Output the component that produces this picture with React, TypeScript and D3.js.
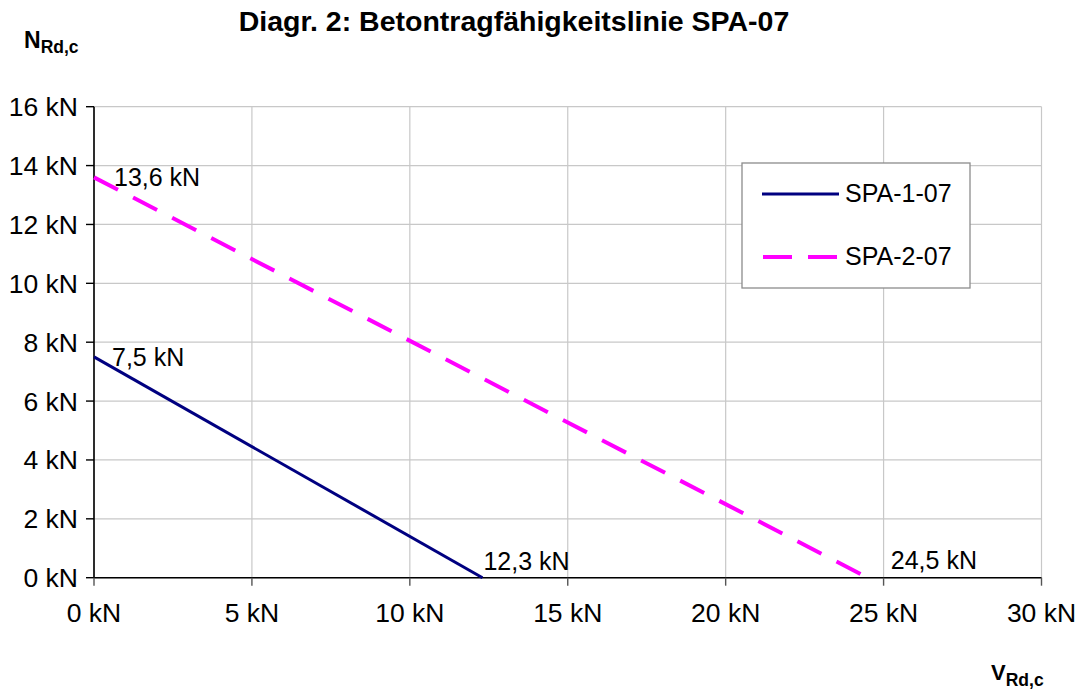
import React from "react";
import * as d3 from "d3";

const seriesNames = ["SPA-1-07", "SPA-2-07"];
const spa1V = [0, 12.3];
const spa1N = [7.5, 0];
const spa2V = [0, 24.5];
const spa2N = [13.6, 0];
const xTicks = [0, 5, 10, 15, 20, 25, 30];
const yTicks = [0, 2, 4, 6, 8, 10, 12, 14, 16];
const pointLabels1 = ["7,5 kN", "12,3 kN"];
const pointLabels2 = ["13,6 kN", "24,5 kN"];

const W = 1079;
const H = 693;
const FONT = "'Liberation Sans', Arial, sans-serif";

export default function App() {
  const x = d3.scaleLinear().domain([0, 30]).range([94, 1041.5]);
  const y = d3.scaleLinear().domain([0, 16]).range([577.7, 106.7]);
  const line = d3
    .line<[number, number]>()
    .x((d) => x(d[0]))
    .y((d) => y(d[1]));

  const s1: [number, number][] = spa1V.map((v, i) => [v, spa1N[i]]);
  const s2: [number, number][] = spa2V.map((v, i) => [v, spa2N[i]]);

  // label offsets (layout only)
  const off1 = [
    [18, 9],
    [1, -8],
  ];
  const off2 = [
    [20, 9],
    [23, -9],
  ];

  const fmt = (v: number) => `${v} kN`;

  return (
    <svg
      width={W}
      height={H}
      style={{ position: "absolute", left: 0, top: 0, background: "#fff" }}
      fontFamily={FONT}
    >
      <rect x={0} y={0} width={W} height={H} fill="#fff" />
      <text
        x={514}
        y={31}
        textAnchor="middle"
        fontWeight="bold"
        fontSize={28.5}
        fill="#000"
      >
        Diagr. 2: Betontragfähigkeitslinie SPA-07
      </text>
      <text x={24} y={48} fontWeight="bold" fill="#000">
        <tspan fontSize={23}>N</tspan>
        <tspan fontSize={17.5} dy={5}>
          Rd,c
        </tspan>
      </text>
      <text x={991} y={680} fontWeight="bold" fill="#000">
        <tspan fontSize={22}>V</tspan>
        <tspan fontSize={17.5} dy={6}>
          Rd,c
        </tspan>
      </text>

      {/* grid */}
      {yTicks.map((t) => (
        <line
          key={"gy" + t}
          x1={x(0)}
          x2={x(30)}
          y1={y(t)}
          y2={y(t)}
          stroke="#c8c8c8"
          strokeWidth={1.2}
        />
      ))}
      {xTicks.map((t) => (
        <line
          key={"gx" + t}
          x1={x(t)}
          x2={x(t)}
          y1={y(0)}
          y2={y(16)}
          stroke="#c8c8c8"
          strokeWidth={1.2}
        />
      ))}

      {/* axes */}
      <line x1={x(0)} x2={x(0)} y1={y(16)} y2={y(0)} stroke="#000" strokeWidth={1.6} />
      <line x1={x(0)} x2={x(30)} y1={y(0)} y2={y(0)} stroke="#000" strokeWidth={1.6} />
      {yTicks.map((t) => (
        <g key={"ty" + t}>
          <line x1={x(0) - 8} x2={x(0)} y1={y(t)} y2={y(t)} stroke="#000" strokeWidth={1.4} />
          <text
            x={78}
            y={y(t)}
            dy="0.36em"
            textAnchor="end"
            fontSize={26.5}
            fill="#000"
          >
            {fmt(t)}
          </text>
        </g>
      ))}
      {xTicks.map((t) => (
        <g key={"tx" + t}>
          <line x1={x(t)} x2={x(t)} y1={y(0)} y2={y(0) + 8} stroke="#555" strokeWidth={1.4} />
          <text x={x(t)} y={622} textAnchor="middle" fontSize={26.5} fill="#000">
            {fmt(t)}
          </text>
        </g>
      ))}

      {/* series */}
      <path d={line(s1) || ""} fill="none" stroke="#000080" strokeWidth={3} />
      <path
        d={line(s2) || ""}
        fill="none"
        stroke="#ff00ff"
        strokeWidth={4}
        strokeDasharray="27,17"
      />

      {s1.map((p, i) => (
        <text
          key={"l1" + i}
          x={x(p[0]) + off1[i][0]}
          y={y(p[1]) + off1[i][1]}
          fontSize={25}
          fill="#000"
        >
          {pointLabels1[i]}
        </text>
      ))}
      {s2.map((p, i) => (
        <text
          key={"l2" + i}
          x={x(p[0]) + off2[i][0]}
          y={y(p[1]) + off2[i][1]}
          fontSize={25}
          fill="#000"
        >
          {pointLabels2[i]}
        </text>
      ))}

      {/* legend */}
      <rect x={742} y={163} width={228} height={125} fill="#fff" stroke="#8c8c8c" strokeWidth={1.3} />
      <line x1={762} x2={839} y1={194} y2={194} stroke="#000080" strokeWidth={3} />
      <text x={845} y={202} fontSize={25} fill="#000">
        {seriesNames[0]}
      </text>
      <line
        x1={763}
        x2={837}
        y1={257}
        y2={257}
        stroke="#ff00ff"
        strokeWidth={4}
        strokeDasharray="29,16"
      />
      <text x={845} y={265} fontSize={25} fill="#000">
        {seriesNames[1]}
      </text>
    </svg>
  );
}
